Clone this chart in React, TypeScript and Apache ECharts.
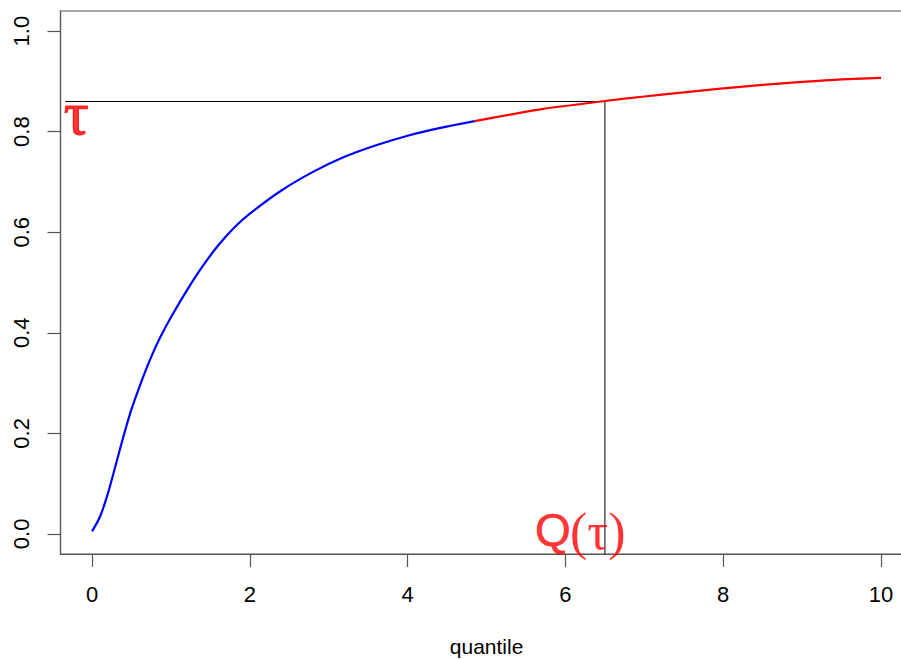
import React, { useEffect, useRef } from "react";
import * as echarts from "echarts";

const blueX = [0, 0.1, 0.2, 0.3, 0.4, 0.5, 0.6, 0.7, 0.8, 0.9, 1.0, 1.2, 1.4, 1.6, 1.8, 2.0, 2.4, 2.8, 3.2, 3.6, 4.0, 4.4, 4.85];
const blueY = [0.005, 0.034, 0.08, 0.137, 0.195, 0.248, 0.292, 0.333, 0.37, 0.402, 0.431, 0.484, 0.532, 0.574, 0.609, 0.637, 0.683, 0.72, 0.75, 0.773, 0.792, 0.807, 0.821];
const redX = [4.85, 5.3, 5.7, 6.1, 6.5, 7.0, 7.5, 8.0, 8.5, 9.0, 9.5, 10.0];
const redY = [0.821, 0.834, 0.845, 0.853, 0.861, 0.87, 0.878, 0.886, 0.893, 0.899, 0.904, 0.907];

const tau = 0.86;
const qTau = 6.5;
const hLineStart = -0.34;

const xTicks = [0, 2, 4, 6, 8, 10];
const yTicks = [0, 0.2, 0.4, 0.6, 0.8, 1.0];
const xLabel = "quantile";

// annotation anchors (data coordinates)
const tauLabelPos = [-0.2, 0.838];
const qLetterPos = [5.84, 0.008];
const qArgPos = [6.41, 0.004];

const zip = (xs: number[], ys: number[]) => xs.map((x, i) => [x, ys[i]]);

export default function App() {
  const ref = useRef<HTMLDivElement>(null);
  useEffect(() => {
    if (!ref.current) return;
    const chart = echarts.init(ref.current, null, { renderer: "svg" });
    const axisColor = "#555";
    const red = "#ff0000";
    chart.setOption({
      animation: false,
      backgroundColor: "#fff",
      grid: {
        left: 60.5,
        top: 11,
        right: -11.6,
        bottom: 105,
        show: true,
        borderColor: axisColor,
        borderWidth: 1.2,
        backgroundColor: "transparent",
        outerBoundsMode: "none",
      },
      xAxis: {
        type: "value",
        min: -0.4,
        max: 10.4,
        name: xLabel,
        nameLocation: "middle",
        nameGap: 82,
        nameTextStyle: { fontFamily: "Liberation Sans", fontSize: 21, color: "#000" },
        axisLine: { show: true, onZero: false, lineStyle: { color: axisColor, width: 1.2 } },
        axisTick: { show: true, length: 13, customValues: xTicks, lineStyle: { color: axisColor, width: 1.2 } },
        axisLabel: {
          customValues: xTicks,
          margin: 29,
          fontFamily: "Liberation Sans",
          fontSize: 22,
          color: "#000",
          formatter: (v: number) => String(v),
        },
        splitLine: { show: false },
      },
      yAxis: {
        type: "value",
        min: -0.04,
        max: 1.04,
        axisLine: { show: true, onZero: false, lineStyle: { color: axisColor, width: 1.2 } },
        axisTick: { show: true, length: 13, customValues: yTicks, lineStyle: { color: axisColor, width: 1.2 } },
        axisLabel: {
          customValues: yTicks,
          margin: 28,
          rotate: 90,
          fontFamily: "Liberation Sans",
          fontSize: 22,
          color: "#000",
          formatter: (v: number) => v.toFixed(1),
        },
        splitLine: { show: false },
      },
      series: [
        {
          type: "line",
          data: [[hLineStart, tau], [qTau, tau], [qTau, -0.04]],
          showSymbol: false,
          lineStyle: { color: "#000", width: 1 },
          z: 1,
        },
        {
          type: "line",
          data: zip(blueX, blueY),
          showSymbol: false,
          smooth: 0.3,
          lineStyle: { color: "#0000ff", width: 2.2 },
          z: 2,
        },
        {
          type: "line",
          data: zip(redX, redY),
          showSymbol: false,
          smooth: 0.3,
          lineStyle: { color: red, width: 2.2 },
          z: 2,
        },
        {
          type: "scatter",
          symbolSize: 0,
          z: 5,
          data: [
            {
              value: tauLabelPos,
              label: {
                show: true,
                position: "inside",
                formatter: "τ",
                fontFamily: "Liberation Serif",
                fontSize: 62,
                color: red,
                textBorderColor: red,
                textBorderWidth: 1.2,
              },
            },
            {
              value: qLetterPos,
              label: {
                show: true,
                position: "inside",
                formatter: "Q",
                fontFamily: "Arial, 'Liberation Sans', sans-serif",
                fontSize: 46,
                color: red,
                textBorderColor: red,
                textBorderWidth: 0.6,
              },
            },
            {
              value: qArgPos,
              label: {
                show: true,
                position: "inside",
                formatter: "(τ)",
                fontFamily: "Liberation Serif",
                fontSize: 52,
                color: red,
              },
            },
          ],
        },
      ],
    });
    return () => chart.dispose();
  }, []);
  return (
    <div
      ref={ref}
      style={{ position: "absolute", left: 0, top: 0, width: 901, height: 659, overflow: "hidden" }}
    />
  );
}
